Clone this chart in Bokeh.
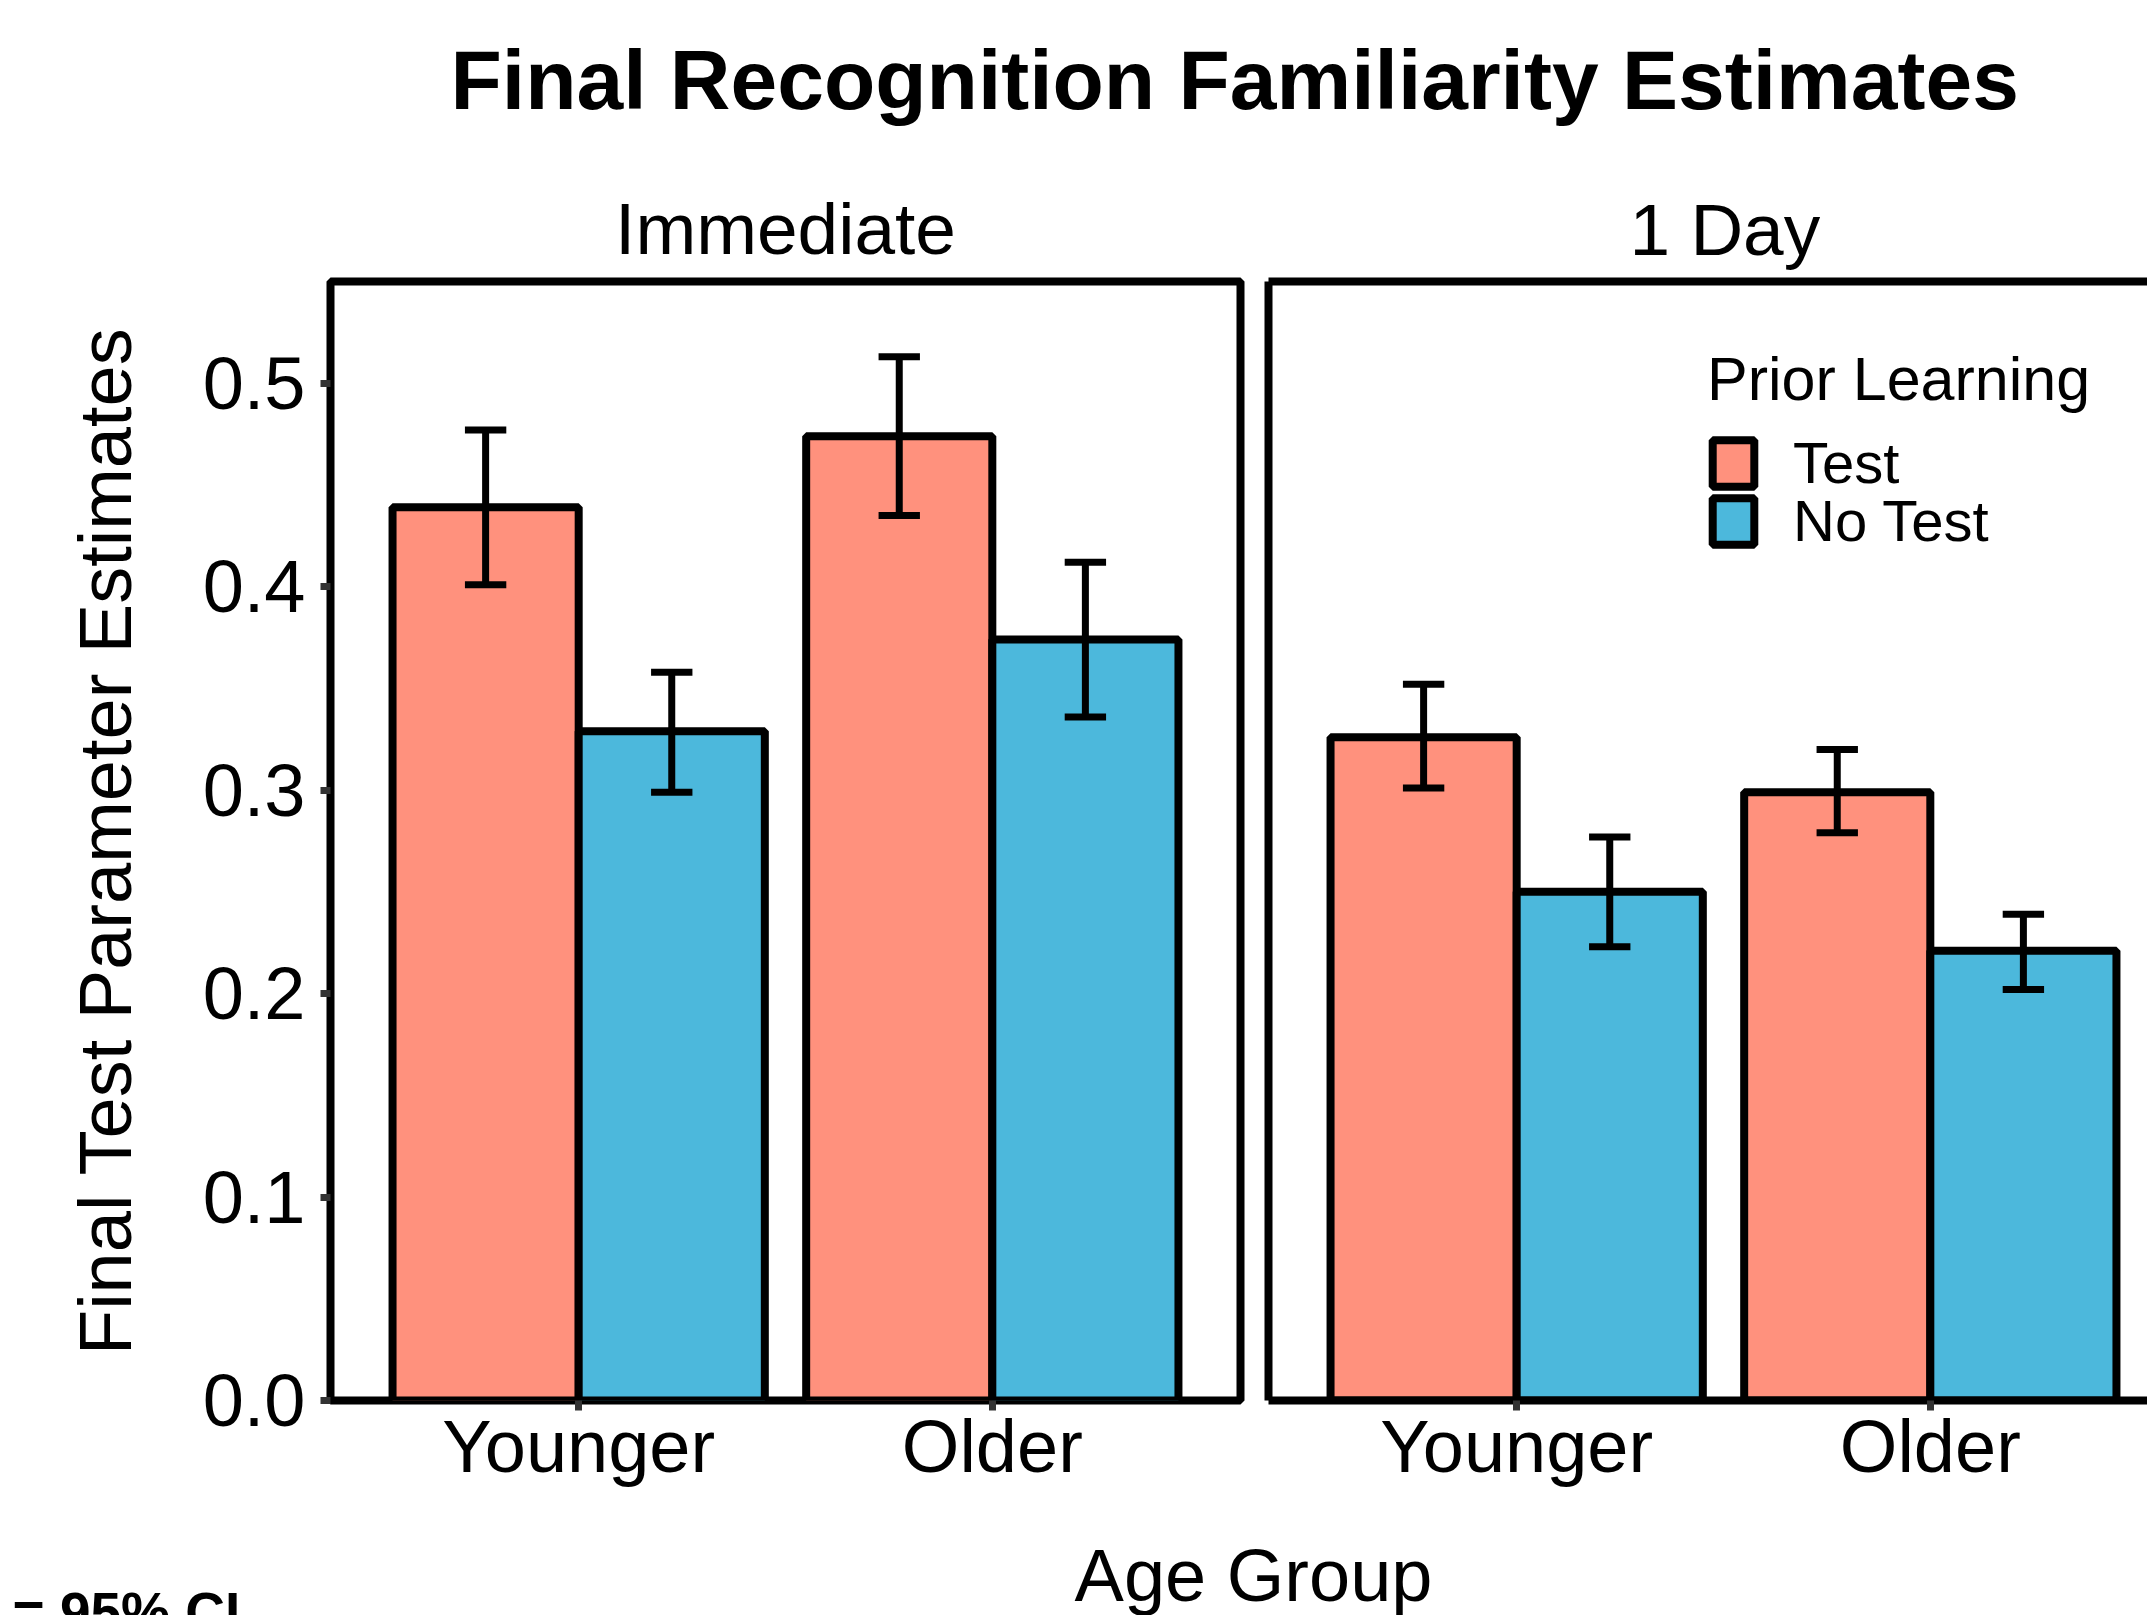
import numpy as np
from bokeh.plotting import figure
from bokeh.layouts import column, row
from bokeh.models import (ColumnDataSource, Range1d, FixedTicker, PrintfTickFormatter,
                          Legend, LegendItem, Label, LinearAxis)
from bokeh.embed import file_html
from bokeh.resources import INLINE

# ---------------- data ----------------
ages = ["Younger", "Older"]
conditions = ["Immediate", "1 Day"]
learning = ["Test", "No Test"]
y_ticks = [0.0, 0.1, 0.2, 0.3, 0.4, 0.5]

imm_test_mean = [0.439, 0.474]
imm_test_lower = [0.401, 0.435]
imm_test_upper = [0.477, 0.513]
imm_notest_mean = [0.329, 0.374]
imm_notest_lower = [0.299, 0.336]
imm_notest_upper = [0.358, 0.412]

day_test_mean = [0.326, 0.299]
day_test_lower = [0.301, 0.279]
day_test_upper = [0.352, 0.320]
day_notest_mean = [0.250, 0.221]
day_notest_lower = [0.223, 0.202]
day_notest_upper = [0.277, 0.239]

# ---------------- style ----------------
FONT = "Liberation Sans"
COLORS = {"Test": "#FF917D", "No Test": "#4CB8DC"}
DODGE = {"Test": -0.225, "No Test": 0.225}
BAR_W = 0.45
CAP_W = 0.1
X_LO, X_HI = 0.4, 2.6
Y_MAX = 0.55

W = 2147
TOP_H, MID_H, BOT_H = 168, 1332, 115
P1_W = 1254
P2_W = W - P1_W
P1_LB, P1_RB = 330, 14
P2_LB, P2_RB = 14, 0
MB_TOP, MB_BOT = 113, 100
FULL_FRAME_W = P1_W - P1_LB - P1_RB
UX = (X_HI - X_LO) / FULL_FRAME_W     # data units per pixel (x)

pos = np.arange(1, len(ages) + 1, dtype=float)


def style_common(p):
    p.xgrid.visible = False
    p.ygrid.visible = False
    p.background_fill_color = "white"
    p.border_fill_color = "white"


def border_axis(axis):
    """An axis that only draws its line (used as the panel border)."""
    axis.ticker = FixedTicker(ticks=[])
    axis.major_tick_out = 0
    axis.major_tick_in = 0
    axis.minor_tick_out = 0
    axis.minor_tick_in = 0
    axis.major_tick_line_color = None
    axis.minor_tick_line_color = None
    axis.major_label_standoff = 0
    axis.major_label_text_font_size = "0px"
    axis.axis_line_color = "black"
    axis.axis_line_width = 8


def make_panel(cond, data, width, lb, rb, first):
    frame_w = width - lb - rb
    p = figure(width=width, height=MID_H, x_range=Range1d(X_LO, X_LO + frame_w * UX),
               y_range=Range1d(0, Y_MAX), output_backend="svg", toolbar_location=None,
               min_border_left=lb, min_border_right=rb, min_border_top=MB_TOP,
               min_border_bottom=MB_BOT)
    style_common(p)
    p.title.text = cond
    p.title.text_font = FONT
    p.title.text_font_size = "73px"
    p.title.text_font_style = "normal"
    p.title.text_color = "black"
    if first:
        p.title.align = "center"
        p.title.standoff = 26
    else:
        p.title.align = "left"
        p.title.offset = 361
        p.title.standoff = 24

    renderers = {}
    for lab in learning:
        mean, lower, upper = data[lab]
        x = pos + DODGE[lab]
        src = ColumnDataSource(dict(x=x, top=mean, lower=lower, upper=upper,
                                    cl=x - CAP_W / 2, cr=x + CAP_W / 2))
        r = p.vbar(x="x", top="top", bottom=0, width=BAR_W, source=src,
                   fill_color=COLORS[lab], line_color="black", line_width=8)
        renderers[lab] = r
        p.segment(x0="x", y0="lower", x1="x", y1="upper", source=src,
                  line_color="black", line_width=7)
        p.segment(x0="cl", y0="upper", x1="cr", y1="upper", source=src,
                  line_color="black", line_width=7)
        p.segment(x0="cl", y0="lower", x1="cr", y1="lower", source=src,
                  line_color="black", line_width=7)

    ax = p.xaxis[0]
    ax.ticker = FixedTicker(ticks=list(pos))
    ax.major_label_overrides = {int(v): a for v, a in zip(pos, ages)}
    ax.major_label_text_font = FONT
    ax.major_label_text_font_size = "74px"
    ax.major_label_text_color = "black"
    ax.major_label_standoff = -6
    ax.major_tick_out = 10
    ax.major_tick_in = 0
    ax.major_tick_line_color = "#333333"
    ax.major_tick_line_width = 7
    ax.minor_tick_line_color = None
    ax.minor_tick_out = 0

    ay = p.yaxis[0]
    if first:
        ax.axis_line_color = None
        ay.ticker = FixedTicker(ticks=y_ticks)
        ay.formatter = PrintfTickFormatter(format="%.1f")
        ay.major_label_text_font = FONT
        ay.major_label_text_font_size = "74px"
        ay.major_label_text_color = "black"
        ay.major_label_standoff = 15
        ay.major_tick_out = 10
        ay.major_tick_in = 0
        ay.major_tick_line_color = "#333333"
        ay.major_tick_line_width = 7
        ay.minor_tick_line_color = None
        ay.axis_line_color = None
        ay.axis_label = "Final Test Parameter Estimates"
        ay.axis_label_text_font = FONT
        ay.axis_label_text_font_size = "74px"
        ay.axis_label_text_font_style = "normal"
        ay.axis_label_text_color = "black"
        ay.axis_label_standoff = 53
        p.outline_line_color = "black"
        p.outline_line_width = 8
        p.outline_line_alpha = 1
    else:
        # right-hand panel is cropped at the picture edge: border on three sides only
        p.outline_line_color = None
        ax.axis_line_color = "black"
        ax.axis_line_width = 8
        border_axis(ay)
        top_axis = LinearAxis()
        border_axis(top_axis)
        p.add_layout(top_axis, "above")
    return p, renderers


p1, _ = make_panel(conditions[0], {
    "Test": (imm_test_mean, imm_test_lower, imm_test_upper),
    "No Test": (imm_notest_mean, imm_notest_lower, imm_notest_upper)},
    P1_W, P1_LB, P1_RB, True)

p2, rends = make_panel(conditions[1], {
    "Test": (day_test_mean, day_test_lower, day_test_upper),
    "No Test": (day_notest_mean, day_notest_lower, day_notest_upper)},
    P2_W, P2_LB, P2_RB, False)

legend_style = dict(label_text_font=FONT, label_text_font_size="58px",
                    label_text_color="black",
                    glyph_width=52, glyph_height=58, label_standoff=34,
                    spacing=0, padding=0, margin=0,
                    border_line_color=None, background_fill_alpha=0)
legend_a = Legend(items=[LegendItem(label=learning[0], renderers=[rends[learning[0]]])],
                  location=(439, 904), title="Prior Learning",
                  title_text_font=FONT, title_text_font_size="61px",
                  title_text_font_style="normal", title_text_color="black",
                  title_standoff=15, **legend_style)
legend_b = Legend(items=[LegendItem(label=learning[1], renderers=[rends[learning[1]]])],
                  location=(439, 846), **legend_style)
p2.add_layout(legend_a)
p2.add_layout(legend_b)

# ---------------- title strip ----------------
top = figure(width=W, height=TOP_H, x_range=Range1d(0, W), y_range=Range1d(0, TOP_H),
             output_backend="svg", toolbar_location=None, min_border=0,
             x_axis_location=None, y_axis_location=None)
style_common(top)
top.outline_line_color = None
top.add_layout(Label(x=450, y=89, x_units="screen", y_units="screen",
                     text="Final Recognition Familiarity Estimates",
                     text_font=FONT, text_font_size="84px", text_font_style="bold",
                     text_color="black", text_baseline="alphabetic", text_align="left"))

# ---------------- bottom strip ----------------
bot = figure(width=W, height=BOT_H, x_range=Range1d(0, W), y_range=Range1d(0, BOT_H),
             output_backend="svg", toolbar_location=None, min_border=0,
             x_axis_location=None, y_axis_location=None)
style_common(bot)
bot.outline_line_color = None
bot.add_layout(Label(x=1253, y=40, x_units="screen", y_units="screen",
                     text="Age Group", text_font=FONT, text_font_size="74px",
                     text_color="black", text_baseline="alphabetic", text_align="center"))
bot.add_layout(Label(x=12, y=4, x_units="screen", y_units="screen",
                     text="= 95% CI", text_font=FONT, text_font_size="55px",
                     text_font_style="bold", text_color="black",
                     text_baseline="alphabetic", text_align="left"))

layout = column(top, row(p1, p2), bot)
open("out.html", "w").write(file_html(layout, INLINE))
